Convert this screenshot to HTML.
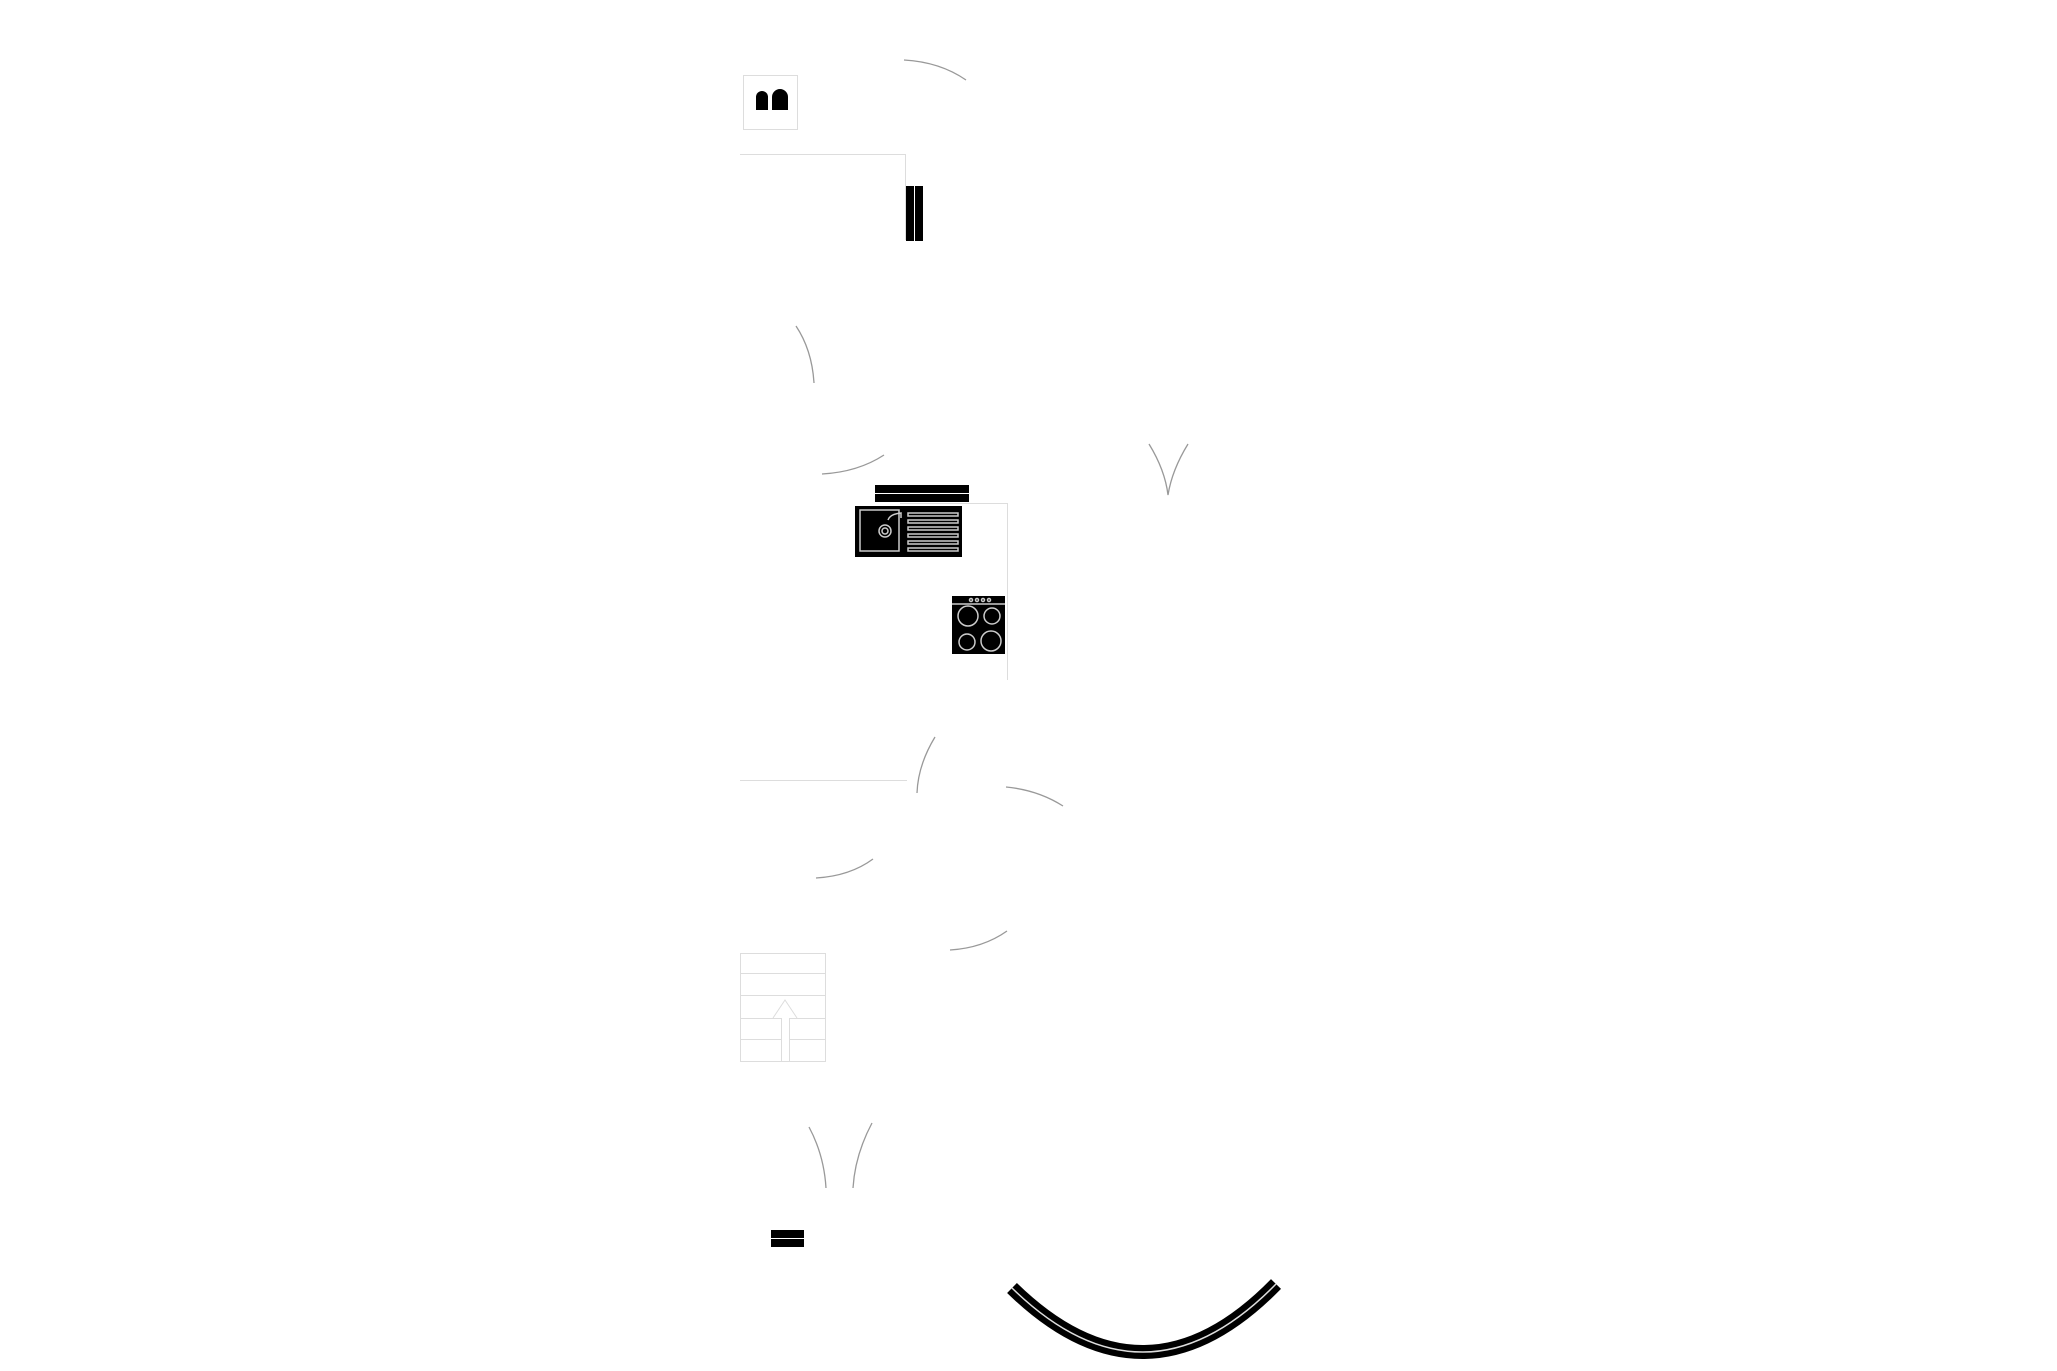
<!DOCTYPE html>
<html><head><meta charset="utf-8"><style>html,body{margin:0;padding:0;background:#fff}svg{display:block}</style></head>
<body>
<svg width="2057" height="1371" viewBox="0 0 2057 1371" xmlns="http://www.w3.org/2000/svg">
<g fill="none" stroke="#999" stroke-width="1.3">
<path d="M904,60 Q940,62 966,80"/>
<path d="M796,326 Q812,350 814,383"/>
<path d="M822,474 Q858,472 884,455"/>
<path d="M1149,444 Q1165,470 1168,495 Q1172,470 1188,444"/>
<path d="M935,737 Q918,765 917,793"/>
<path d="M1006,787 Q1038,790 1063,806"/>
<path d="M816,878 Q850,876 873,859"/>
<path d="M950,950 Q983,948 1007,931"/>
<path d="M809,1127 Q824,1155 826,1188"/>
<path d="M872,1123 Q855,1155 853,1188"/>
</g>
<g fill="none" stroke="#ddd" stroke-width="1">
<rect x="743.5" y="75.5" width="54" height="54"/>
<path d="M740,154.5 H905.5 V240"/>
<path d="M740,780.5 H907"/>
<path d="M900,503.5 H1007.5 V680"/>
<rect x="740.5" y="953.5" width="85" height="108"/>
<path d="M740,973.5 H825 M740,995.5 H825 M740,1018.5 H781 M789,1018.5 H825 M740,1039.5 H781 M789,1039.5 H825 M781.5,1018 V1061 M789.5,1018 V1061 M773,1018 L785,1000 L797,1018"/>
</g>
<g fill="#000">
<path d="M756,110 V97 A6,6 0 0 1 768,97 V110 Z"/>
<path d="M772,110 V97 A8,8 0 0 1 788,97 V110 Z"/>
<rect x="906" y="186" width="8" height="55"/>
<rect x="915" y="186" width="8" height="55"/>
<rect x="875" y="485" width="94" height="8"/>
<rect x="875" y="494" width="94" height="8"/>
<rect x="855" y="506" width="107" height="51"/>
<rect x="952" y="596" width="53" height="58"/>
<rect x="771" y="1230" width="33" height="8"/>
<rect x="771" y="1239" width="33" height="8"/>
</g>
<g fill="none" stroke="#ccc" stroke-width="1.5">
<rect x="860" y="510" width="39" height="41"/>
<circle cx="885" cy="531" r="6"/><circle cx="885" cy="531" r="3"/>
<path d="M888,520 Q890,514 901,513 V518"/>
<rect x="908" y="513" width="50" height="3"/><rect x="908" y="520" width="50" height="3"/><rect x="908" y="527" width="50" height="3"/><rect x="908" y="534" width="50" height="3"/><rect x="908" y="541" width="50" height="3"/><rect x="908" y="548" width="50" height="3"/>
<path d="M952,604 H1005"/>
<circle cx="968" cy="616" r="10"/><circle cx="992" cy="616" r="8"/><circle cx="967" cy="642" r="8"/><circle cx="991" cy="641" r="10"/>
<circle cx="971" cy="600" r="1.5"/><circle cx="977" cy="600" r="1.5"/><circle cx="983" cy="600" r="1.5"/><circle cx="989" cy="600" r="1.5"/>
</g>
<path d="M1012,1288 Q1145,1418 1276,1284" fill="none" stroke="#000" stroke-width="14"/>
<path d="M1012,1288 Q1145,1418 1276,1284" fill="none" stroke="#ddd" stroke-width="1.5"/>
</svg>
</body></html>
